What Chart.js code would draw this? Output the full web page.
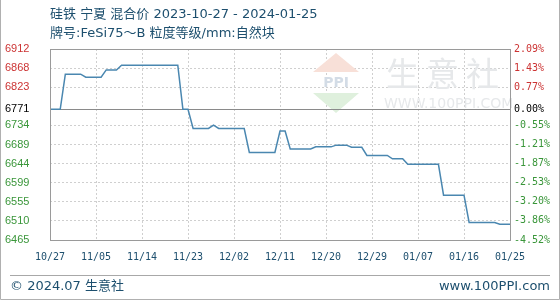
<!DOCTYPE html>
<html>
<head>
<meta charset="utf-8">
<script src="https://cdn.jsdelivr.net/npm/chart.js@4/dist/chart.umd.min.js"></script>
<style>
  html, body { margin: 0; padding: 0; background: #fff; }
  #wrap { width: 560px; height: 300px; position: relative; }
</style>
</head>
<body>
<div id="wrap"><canvas id="myChart" width="560" height="300"></canvas></div>
<script>
const startDate = '2023-10-27';
const basePrice = 6771;

const pointDates = [
    '2023-10-27', '2023-10-29', '2023-10-30', '2023-11-02', '2023-11-03', '2023-11-06',
    '2023-11-07', '2023-11-09', '2023-11-10', '2023-11-21', '2023-11-22', '2023-11-23',
    '2023-11-24', '2023-11-27', '2023-11-28', '2023-11-29', '2023-12-04', '2023-12-05',
    '2023-12-10', '2023-12-11', '2023-12-12', '2023-12-13', '2023-12-17', '2023-12-18',
    '2023-12-21', '2023-12-22', '2023-12-24', '2023-12-25', '2023-12-27', '2023-12-28',
    '2024-01-01', '2024-01-02', '2024-01-04', '2024-01-05', '2024-01-11', '2024-01-12',
    '2024-01-16', '2024-01-17', '2024-01-22', '2024-01-23', '2024-01-25'
];
const prices = [
    6771, 6771, 6853, 6853, 6846, 6846,
    6863, 6863, 6874, 6874, 6771, 6771,
    6726, 6726, 6734, 6726, 6726, 6670,
    6670, 6720, 6720, 6678, 6678, 6683,
    6683, 6687, 6687, 6682, 6682, 6663,
    6663, 6655, 6655, 6642, 6642, 6570,
    6570, 6506, 6506, 6502, 6502
];

const xTickLabels = ['10/27', '11/05', '11/14', '11/23', '12/02', '12/11', '12/20', '12/29', '01/07', '01/16', '01/25'];
const yTickValues = [6912, 6867.3, 6822.6, 6771, 6733.2, 6688.5, 6643.8, 6599.1, 6554.4, 6509.7, 6465];
const yLeftLabels = ['6912', '6868', '6823', '6771', '6734', '6689', '6644', '6599', '6555', '6510', '6465'];
const yRightLabels = ['2.09%', '1.43%', '0.77%', '0.00%', '-0.55%', '-1.21%', '-1.87%', '-2.53%', '-3.20%', '-3.86%', '-4.52%'];

const titleLine1 = '硅铁 宁夏 混合价 2023-10-27 - 2024-01-25';
const titleLine2 = '牌号:FeSi75～B 粒度等级/mm:自然块';
const footerLeft = '© 2024.07 生意社';
const footerRight = 'www.100PPI.com';

const textColor = '#1d4f6e';
const upColor = '#cc3333';
const downColor = '#3a963a';

function dayOffset(d) {
    return (Date.parse(d) - Date.parse(startDate)) / 86400000;
}

function tickColor(value) {
    if (value === basePrice) return '#000';
    return value > basePrice ? upColor : downColor;
}

const points = pointDates.map((d, i) => ({ x: dayOffset(d), y: prices[i] }));

const decorPlugin = {
    id: 'decor',
    beforeDatasetsDraw(chart) {
        const ctx = chart.ctx;
        const a = chart.chartArea;
        ctx.save();
        // watermark logo
        const cx = 336;
        ctx.fillStyle = '#f8e0d8';
        ctx.beginPath();
        ctx.moveTo(cx, 53); ctx.lineTo(cx + 23, 72); ctx.lineTo(cx - 23, 72);
        ctx.closePath(); ctx.fill();
        ctx.fillStyle = '#dff0dd';
        ctx.beginPath();
        ctx.moveTo(cx - 23, 93); ctx.lineTo(cx + 23, 93); ctx.lineTo(cx, 113);
        ctx.closePath(); ctx.fill();
        ctx.fillStyle = '#d3dce6';
        ctx.font = 'bold 14px "DejaVu Sans"';
        ctx.textAlign = 'center';
        ctx.textBaseline = 'middle';
        ctx.fillText('PPI', cx, 83);
        ctx.fillStyle = '#e6e8ea';
        ctx.font = '33px "Noto Sans CJK SC"';
        ctx.textAlign = 'left';
        ctx.fillText('生', 386, 73);
        ctx.fillText('意', 426, 73);
        ctx.fillText('社', 466, 73);
        ctx.font = '14px "DejaVu Sans"';
        ctx.fillText('WWW.100PPI.COM', 384, 104);
        // baseline at reference price
        const yScale = chart.scales.y;
        const by = Math.round(yScale.getPixelForValue(basePrice)) + 0.5;
        ctx.strokeStyle = '#8a8a8a';
        ctx.lineWidth = 1;
        ctx.beginPath();
        ctx.moveTo(a.left, by); ctx.lineTo(a.right, by);
        ctx.stroke();
        ctx.restore();
    },
    afterDraw(chart) {
        const ctx = chart.ctx;
        const a = chart.chartArea;
        ctx.save();
        ctx.strokeStyle = '#9a9a9a';
        ctx.lineWidth = 1;
        ctx.strokeRect(Math.round(a.left) + 0.5, Math.round(a.top) + 0.5,
            Math.round(a.right - a.left), Math.round(a.bottom - a.top));
        // title
        ctx.fillStyle = textColor;
        ctx.textAlign = 'left';
        ctx.textBaseline = 'middle';
        ctx.font = '13px "DejaVu Sans", "Noto Sans CJK SC"';
        ctx.fillText(titleLine1, 50, 15);
        ctx.fillText(titleLine2, 50, 34);
        // footer
        ctx.strokeStyle = '#a8a8a8';
        ctx.beginPath();
        ctx.moveTo(10, 275.5); ctx.lineTo(550, 275.5);
        ctx.stroke();
        ctx.font = '13px "DejaVu Sans", "Noto Sans CJK SC"';
        ctx.fillText(footerLeft, 10, 287);
        ctx.textAlign = 'right';
        ctx.fillText(footerRight, 550, 287);
        // outer frame
        ctx.strokeStyle = '#b0b0b0';
        ctx.beginPath();
        ctx.moveTo(0.5, 0); ctx.lineTo(0.5, 299.5); ctx.lineTo(559.5, 299.5); ctx.lineTo(559.5, 0);
        ctx.stroke();
        ctx.restore();
    }
};

const ctx = document.getElementById('myChart').getContext('2d');
new Chart(ctx, {
    type: 'line',
    data: {
        datasets: [{
            data: points,
            borderColor: '#4a87b0',
            borderWidth: 1.5,
            pointRadius: 0,
            tension: 0,
            fill: false
        }]
    },
    options: {
        responsive: false,
        animation: false,
        devicePixelRatio: 1,
        layout: { padding: { top: 49, left: 5, right: 0, bottom: 0 } },
        plugins: {
            legend: { display: false },
            tooltip: { enabled: false }
        },
        scales: {
            x: {
                type: 'linear',
                min: 0,
                max: 90,
                afterBuildTicks: scale => {
                    scale.ticks = xTickLabels.map((_, i) => ({ value: i * 9 }));
                },
                afterFit: scale => { scale.height = 60; },
                ticks: {
                    autoSkip: false,
                    maxRotation: 0,
                    padding: 11,
                    color: textColor,
                    font: { family: 'DejaVu Sans Mono', size: 10 },
                    callback: (value, index) => xTickLabels[index]
                },
                grid: { color: '#cfcfcf', drawTicks: false },
                border: { display: false, dash: [2, 2] }
            },
            y: {
                position: 'left',
                min: 6465,
                max: 6912,
                afterBuildTicks: scale => {
                    scale.ticks = yTickValues.map(v => ({ value: v }));
                },
                afterFit: scale => { scale.width = 45; },
                ticks: {
                    autoSkip: false,
                    crossAlign: 'far',
                    padding: 0,
                    color: c => tickColor(c.tick.value),
                    font: { family: 'Liberation Sans', size: 11 },
                    callback: (value, index) => yLeftLabels[index]
                },
                grid: {
                    drawTicks: false,
                    color: c => (c.tick && c.tick.value === basePrice) ? 'rgba(0,0,0,0)' : '#cfcfcf'
                },
                border: { display: false, dash: [2, 2] }
            },
            y1: {
                position: 'right',
                min: 6465,
                max: 6912,
                afterBuildTicks: scale => {
                    scale.ticks = yTickValues.map(v => ({ value: v }));
                },
                afterFit: scale => { scale.width = 50; },
                ticks: {
                    autoSkip: false,
                    padding: 4,
                    color: c => tickColor(c.tick.value),
                    font: { family: 'DejaVu Sans Mono', size: 10 },
                    callback: (value, index) => yRightLabels[index]
                },
                grid: { display: false, drawTicks: false },
                border: { display: false }
            }
        }
    },
    plugins: [decorPlugin]
});
</script>
</body>
</html>
